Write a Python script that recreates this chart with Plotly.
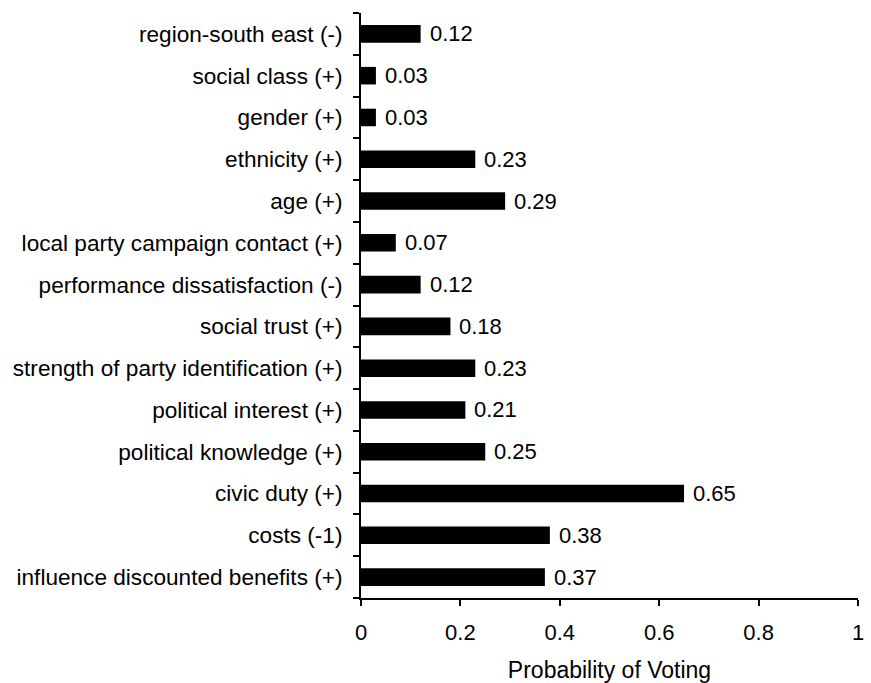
import plotly.graph_objects as go

# Predictors, listed bottom to top
categories = [
    "influence discounted benefits (+)",
    "costs (-1)",
    "civic duty (+)",
    "political knowledge (+)",
    "political interest (+)",
    "strength of party identification (+)",
    "social trust (+)",
    "performance dissatisfaction (-)",
    "local party campaign contact (+)",
    "age (+)",
    "ethnicity (+)",
    "gender (+)",
    "social class (+)",
    "region-south east (-)",
]
values = [0.37, 0.38, 0.65, 0.25, 0.21, 0.23, 0.18, 0.12, 0.07, 0.29, 0.23, 0.03, 0.03, 0.12]
x_ticks = [0, 0.2, 0.4, 0.6, 0.8, 1]
x_tick_text = ["0", "0.2", "0.4", "0.6", "0.8", "1"]

FONT = "Liberation Sans, Arial, sans-serif"

fig = go.Figure(
    go.Bar(
        x=values,
        y=categories,
        orientation="h",
        marker=dict(color="black", line=dict(width=0)),
        width=0.42,
        hoverinfo="skip",
    )
)

# Value labels just right of each bar end
for cat, v in zip(categories, values):
    fig.add_annotation(
        x=v, y=cat, text=f"{v:.2f}", showarrow=False,
        xanchor="left", yanchor="middle", xshift=7,
        font=dict(family=FONT, size=22, color="black"),
    )

fig.update_layout(
    width=871, height=683,
    margin=dict(l=361, r=13, t=13, b=85),
    paper_bgcolor="white", plot_bgcolor="white",
    font=dict(family=FONT, size=22, color="black"),
    showlegend=False,
    xaxis=dict(
        range=[0, 1], tickvals=x_ticks, ticktext=x_tick_text,
        showgrid=False, zeroline=False,
        showline=True, linecolor="black", linewidth=2,
        ticks="outside", ticklen=6, tickwidth=2, tickcolor="black",
        ticklabelstandoff=8,
        title=dict(text="Probability of Voting", standoff=17,
                   font=dict(family=FONT, size=23)),
        automargin=False,
        fixedrange=True,
    ),
    yaxis=dict(
        type="category", categoryorder="array", categoryarray=categories,
        range=[-0.5, len(categories) - 0.5],
        showgrid=False, zeroline=False,
        showline=True, linecolor="black", linewidth=2,
        ticks="outside", ticklen=6, tickwidth=2, tickcolor="black",
        tickson="boundaries", ticklabelstandoff=12,
        tickfont=dict(family=FONT, size=22.6),
        automargin=False,
        fixedrange=True,
    ),
)

fig.write_html("out.html")
